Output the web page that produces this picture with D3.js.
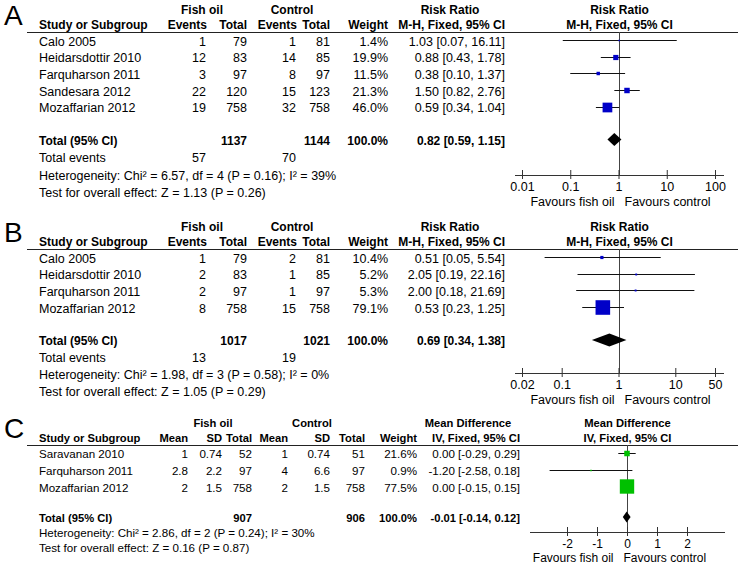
<!DOCTYPE html>
<html><head><meta charset="utf-8">
<script src="https://cdn.jsdelivr.net/npm/d3@7"></script>
<style>
body{margin:0;background:#fff}
svg{display:block}
text{font-family:"Liberation Sans",Arial,sans-serif;font-size:12.5px;fill:#000}
</style>
</head><body><svg id="chart" width="738" height="566"></svg>
<script>
// ---------- Panel A data ----------
const studiesA = ["Calo 2005","Heidarsdottir 2010","Farquharson 2011","Sandesara 2012","Mozaffarian 2012"];
const fishEventsA = [1,12,3,22,19];
const fishTotalA = [79,83,97,120,758];
const ctrlEventsA = [1,14,8,15,32];
const ctrlTotalA = [81,85,97,123,758];
const weightA = [1.4,19.9,11.5,21.3,46.0];
const estA = [1.03,0.88,0.38,1.50,0.59];
const lowA = [0.07,0.43,0.10,0.82,0.34];
const highA = [16.11,1.78,1.37,2.76,1.04];
const totalsA = [1137,1144];          // fish total, control total
const totalEventsA = [57,70];
const pooledA = [0.82,0.59,1.15];     // estimate, low, high
const hetA = "Heterogeneity: Chi\u00b2 = 6.57, df = 4 (P = 0.16); I\u00b2 = 39%";
const testA = "Test for overall effect: Z = 1.13 (P = 0.26)";
const ticksA = [0.01,0.1,1,10,100];

// ---------- Panel B data ----------
const studiesB = ["Calo 2005","Heidarsdottir 2010","Farquharson 2011","Mozaffarian 2012"];
const fishEventsB = [1,2,2,8];
const fishTotalB = [79,83,97,758];
const ctrlEventsB = [2,1,1,15];
const ctrlTotalB = [81,85,97,758];
const weightB = [10.4,5.2,5.3,79.1];
const estB = [0.51,2.05,2.00,0.53];
const lowB = [0.05,0.19,0.18,0.23];
const highB = [5.54,22.16,21.69,1.25];
const totalsB = [1017,1021];
const totalEventsB = [13,19];
const pooledB = [0.69,0.34,1.38];
const hetB = "Heterogeneity: Chi\u00b2 = 1.98, df = 3 (P = 0.58); I\u00b2 = 0%";
const testB = "Test for overall effect: Z = 1.05 (P = 0.29)";
const ticksB = [0.02,0.1,1,10,50];

// ---------- Panel C data ----------
const studiesC = ["Saravanan 2010","Farquharson 2011","Mozaffarian 2012"];
const fishMeanC = [1,2.8,2];
const fishSdC = [0.74,2.2,1.5];
const fishTotalC = [52,97,758];
const ctrlMeanC = [1,4,2];
const ctrlSdC = [0.74,6.6,1.5];
const ctrlTotalC = [51,97,758];
const weightC = [21.6,0.9,77.5];
const estC = [0.00,-1.20,0.00];
const lowC = [-0.29,-2.58,-0.15];
const highC = [0.29,0.18,0.15];
const totalsC = [907,906];
const pooledC = [-0.01,-0.14,0.12];
const hetC = "Heterogeneity: Chi\u00b2 = 2.86, df = 2 (P = 0.24); I\u00b2 = 30%";
const testC = "Test for overall effect: Z = 0.16 (P = 0.87)";
const ticksC = [-2,-1,0,1,2];

// ---------- helpers ----------
const svg = d3.select("#chart");
const f2 = v => v.toFixed(2);
const pct = v => v.toFixed(1) + "%";
const ciText = (e,l,h) => `${f2(e)} [${f2(l)}, ${f2(h)}]`;
const sizeScale = d3.scalePow().exponent(0.75).domain([0,100]).range([0,17.4]);

function panel(cfg) {
  const g = svg.append("g");
  const y0 = cfg.y0;
  const txt = (x, yc, s, anchor, bold, fsz) => {
    const size = fsz || (bold ? cfg.fb : cfg.fs);
    return g.append("text")
      .attr("x", x).attr("y", yc + size * 0.36)
      .attr("text-anchor", anchor || "start")
      .style("font-weight", bold ? "bold" : null)
      .style("font-size", size + "px")
      .text(s);
  };
  // panel letter
  g.append("text").attr("x", 4).attr("y", y0 - 7)
    .style("font-size", "28px").text(cfg.letter);
  // group headers
  cfg.groupHeads.forEach(h => txt(h[0], y0 - 22, h[1], "middle", true));
  txt(39, y0 - 7, "Study or Subgroup", "start", true);
  cfg.colHeads.forEach(h => txt(h[0], y0 - 7, h[1], "end", true));
  txt(cfg.effHead, y0 - 22, cfg.effName, "middle", true);
  txt(cfg.ciRight, y0 - 7, cfg.method, "end", true);
  txt(cfg.plotMid, y0 - 22, cfg.effName, "middle", true);
  txt(cfg.plotMid, y0 - 7, cfg.method, "middle", true);
  // header rule
  g.append("line").attr("x1", 27).attr("x2", 738)
    .attr("y1", y0 + 0.5).attr("y2", y0 + 0.5)
    .attr("stroke", "#222").attr("stroke-width", 1);

  const rowY = i => y0 + 8 + i * 16.7;
  // table rows
  cfg.studies.forEach((s, i) => {
    const y = rowY(i) + 1;
    txt(39, y, s);
    cfg.rowCols.forEach(c => txt(c.x, y, String(c.vals[i]), "end"));
    txt(cfg.weightRight, y, pct(cfg.weights[i]), "end");
    txt(cfg.ciRight, y, ciText(cfg.est[i], cfg.low[i], cfg.high[i]), "end");
  });
  // totals
  const ty = cfg.totalY;
  txt(39, ty + 1, "Total (95% CI)", "start", true);
  cfg.totalCols.forEach(c => txt(c[0], ty + 1, String(c[1]), "end", true));
  txt(cfg.weightRight, ty + 1, "100.0%", "end", true);
  txt(cfg.ciRight, ty + 1, ciText(cfg.pooled[0], cfg.pooled[1], cfg.pooled[2]), "end", true);
  if (cfg.eventsY) {
    txt(39, cfg.eventsY, "Total events");
    cfg.eventCols.forEach(c => txt(c[0], cfg.eventsY, String(c[1]), "end"));
  }
  txt(39, cfg.hetY, cfg.het);
  txt(39, cfg.testY, cfg.test);

  // plot
  const x = cfg.scale;
  const r = x.range();
  const axisY = cfg.axisY;
  const refX = Math.round(x(cfg.refVal)) + 0.5;
  g.append("line").attr("x1", refX).attr("x2", refX)
    .attr("y1", y0).attr("y2", axisY).attr("stroke", "#444");
  const ax = d3.axisBottom(x).tickValues(cfg.ticks).tickFormat(d => String(d)).tickSizeOuter(0);
  const ag = g.append("g").attr("transform", `translate(0,${axisY})`).call(ax);
  ag.select(".domain").remove();
  ag.append("line").attr("x1", r[0] - cfg.axPad[0]).attr("x2", r[1] + cfg.axPad[1])
    .attr("y1", 0.5).attr("y2", 0.5).attr("stroke", "#333");
  ag.selectAll(".tick line").attr("y1", -5).attr("y2", 4).attr("stroke", "#333");
  ag.selectAll(".tick text").attr("y", 7).attr("dy", "0.71em")
    .style("font-family", '"Liberation Sans",Arial,sans-serif')
    .style("font-size", cfg.fp + "px").attr("fill", "#000");
  txt(cfg.favSplit - 5, axisY + 26, "Favours fish oil", "end", false, cfg.fp);
  txt(cfg.favSplit + 5, axisY + 26, "Favours control", "start", false, cfg.fp);

  // CI lines + squares
  cfg.studies.forEach((s, i) => {
    const y = Math.round(rowY(i)) + 0.5;
    g.append("line").attr("x1", x(cfg.low[i])).attr("x2", x(cfg.high[i]))
      .attr("y1", y).attr("y2", y).attr("stroke", "#111");
    const sz = Math.max(1.5, sizeScale(cfg.weights[i]));
    g.append("rect").attr("x", x(cfg.est[i]) - sz / 2).attr("y", y - sz / 2)
      .attr("width", sz).attr("height", sz).attr("fill", cfg.color);
  });
  // diamond
  const dy = cfg.totalY, p = cfg.pooled, h = cfg.dh;
  g.append("path").attr("d",
    `M${x(p[1])},${dy} L${x(p[0])},${dy - h} L${x(p[2])},${dy} L${x(p[0])},${dy + h} Z`)
    .attr("fill", "#000");
}

panel({
  letter: "A", y0: 32, fs: 12.5, fb: 12, fp: 12.5, dh: 6.5,
  groupHeads: [[202, "Fish oil"], [292, "Control"]],
  colHeads: [[207, "Events"], [247, "Total"], [297, "Events"], [330, "Total"], [388, "Weight"]],
  effName: "Risk Ratio", effHead: 450, method: "M-H, Fixed, 95% CI",
  ciRight: 505, weightRight: 388, plotMid: 619.5,
  studies: studiesA,
  rowCols: [{x: 206, vals: fishEventsA}, {x: 247, vals: fishTotalA},
            {x: 296, vals: ctrlEventsA}, {x: 330, vals: ctrlTotalA}],
  weights: weightA, est: estA, low: lowA, high: highA, pooled: pooledA,
  totalY: 139.5, totalCols: [[247, totalsA[0]], [330, totalsA[1]]],
  eventsY: 157, eventCols: [[206, totalEventsA[0]], [296, totalEventsA[1]]],
  hetY: 175, testY: 192, het: hetA, test: testA,
  scale: d3.scaleLog().domain([0.01, 100]).range([522, 715]), refVal: 1,
  ticks: ticksA, axisY: 175, axPad: [7, 9], favSplit: 619.5, color: "#0000c8"
});

panel({
  letter: "B", y0: 249, fs: 12.5, fb: 12, fp: 12.5, dh: 6.5,
  groupHeads: [[202, "Fish oil"], [292, "Control"]],
  colHeads: [[207, "Events"], [247, "Total"], [297, "Events"], [330, "Total"], [388, "Weight"]],
  effName: "Risk Ratio", effHead: 450, method: "M-H, Fixed, 95% CI",
  ciRight: 505, weightRight: 388, plotMid: 619.5,
  studies: studiesB,
  rowCols: [{x: 206, vals: fishEventsB}, {x: 247, vals: fishTotalB},
            {x: 296, vals: ctrlEventsB}, {x: 330, vals: ctrlTotalB}],
  weights: weightB, est: estB, low: lowB, high: highB, pooled: pooledB,
  totalY: 340, totalCols: [[247, totalsB[0]], [330, totalsB[1]]],
  eventsY: 357, eventCols: [[206, totalEventsB[0]], [296, totalEventsB[1]]],
  hetY: 374, testY: 391, het: hetB, test: testB,
  scale: d3.scaleLog().domain([0.02, 50]).range([522, 715]), refVal: 1,
  ticks: ticksB, axisY: 373, axPad: [7, 9], favSplit: 619.5, color: "#0000c8"
});

panel({
  letter: "C", y0: 445, fs: 11.6, fb: 11.2, fp: 12, dh: 5.5,
  groupHeads: [[213, "Fish oil"], [312, "Control"]],
  colHeads: [[188, "Mean"], [222, "SD"], [252, "Total"], [288, "Mean"], [330, "SD"], [365, "Total"], [417, "Weight"]],
  effName: "Mean Difference", effHead: 468, method: "IV, Fixed, 95% CI",
  ciRight: 520, weightRight: 417, plotMid: 627.5,
  studies: studiesC,
  rowCols: [{x: 188, vals: fishMeanC}, {x: 222, vals: fishSdC},
            {x: 252, vals: fishTotalC}, {x: 288, vals: ctrlMeanC},
            {x: 330, vals: ctrlSdC}, {x: 365, vals: ctrlTotalC}],
  weights: weightC, est: estC, low: lowC, high: highC, pooled: pooledC,
  totalY: 517, totalCols: [[252, totalsC[0]], [365, totalsC[1]]],
  eventsY: null, eventCols: [],
  hetY: 533, testY: 548, het: hetC, test: testC,
  scale: d3.scaleLinear().domain([-2, 2]).range([567, 687]), refVal: 0,
  ticks: ticksC, axisY: 532, axPad: [37, 38], favSplit: 618.5, color: "#00c000"
});
</script>
</body></html>
